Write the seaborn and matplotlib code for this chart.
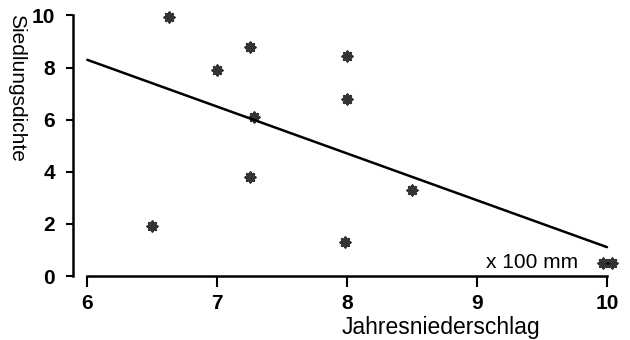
import numpy as np
import pandas as pd
import seaborn as sns
import matplotlib
matplotlib.use("Agg")
import matplotlib.pyplot as plt

# Niederschlag (x 100 mm) und Siedlungsdichte
niederschlag = [6.63, 7.0, 7.25, 7.28, 7.25, 6.5, 8.0, 8.0, 7.98, 8.5, 9.97, 10.04]
dichte = [9.95, 7.9, 8.8, 6.1, 3.8, 1.9, 8.45, 6.8, 1.3, 3.3, 0.5, 0.5]

x_ticks = [6, 7, 8, 9, 10]
y_ticks = [0, 2, 4, 6, 8, 10]

df = pd.DataFrame({"Jahresniederschlag": niederschlag, "Siedlungsdichte": dichte})

sns.set_style("white")
plt.rcParams["font.family"] = ["Liberation Sans", "DejaVu Sans"]
plt.rcParams["text.color"] = "black"
plt.rcParams["axes.labelcolor"] = "black"
plt.rcParams["xtick.color"] = "black"
plt.rcParams["ytick.color"] = "black"

fig = plt.figure(figsize=(6.3, 3.4), dpi=100)
ax = fig.add_axes([73 / 630, 64 / 340, 547 / 630, 271 / 340])

# regression line spans 6..10, so fix xlim before regplot
ax.set_xlim(6, 10)
sns.regplot(data=df, x="Jahresniederschlag", y="Siedlungsdichte", ax=ax,
            ci=None, truncate=False,
            marker=(8, 2, 0),
            scatter_kws={"s": 45, "color": "black", "linewidths": 2.0},
            line_kws={"color": "black", "linewidth": 1.8})

ax.set_xlim(5.89, 10.1)
ax.set_ylim(0, 10.4)

ax.set_xticks(x_ticks)
ax.set_yticks(y_ticks)
ax.tick_params(axis="both", labelsize=15, colors="black", width=1.5)
ax.tick_params(axis="x", length=8, direction="out", bottom=True, pad=5)
ax.tick_params(axis="y", length=5, direction="out", left=True, pad=8)
for lab in ax.get_xticklabels() + ax.get_yticklabels():
    lab.set_fontweight("bold")

sns.despine(ax=ax)
ax.spines["left"].set_bounds(0, 10)
ax.spines["bottom"].set_bounds(6, 10)
for s in ("left", "bottom"):
    ax.spines[s].set_linewidth(1.8)
    ax.spines[s].set_color("black")

ax.set_ylabel("Siedlungsdichte", fontsize=15, rotation=270, va="center", ha="center")
ax.yaxis.set_label_coords(-0.104, 0.694)
ax.set_xlabel("Jahresniederschlag", fontsize=16.5, ha="center", va="baseline")
ax.xaxis.set_label_coords(0.673, -0.215)

ax.text(9.78, 0.3, "x 100 mm", fontsize=15, ha="right", va="baseline")

fig.savefig("out.png", dpi=100)
